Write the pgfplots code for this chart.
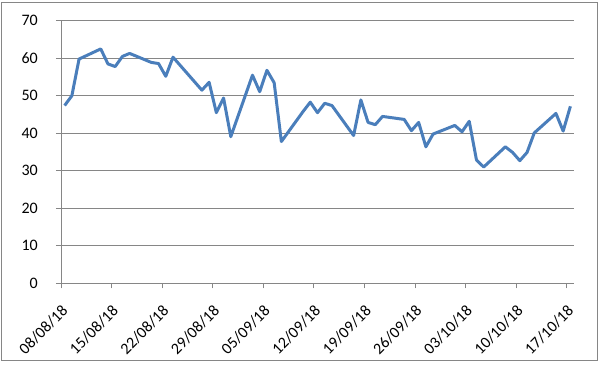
\documentclass[border=0pt]{standalone}
\usepackage{pgfplots}
\pgfplotsset{compat=1.18}
\usepackage{fontspec}
\setmainfont{Carlito}
\definecolor{excelblue}{HTML}{4A7EBB}
\definecolor{gridgrey}{HTML}{868686}
\begin{document}
\begin{tikzpicture}
\useasboundingbox (-61pt,-80.7pt) rectangle (543pt,283.3pt);
\draw[gridgrey, line width=0.9pt] (-59.3pt,-77.4pt) rectangle (536.7pt,281.3pt);
\begin{axis}[
  at={(0pt,0pt)}, anchor=south west,
  scale only axis, width=513pt, height=262.5pt,
  xmin=0, xmax=71, ymin=0, ymax=70,
  ytick={0,10,...,70},
  xtick={0,7,...,70},
  xticklabels={08/08/18,15/08/18,22/08/18,29/08/18,05/09/18,12/09/18,19/09/18,26/09/18,03/10/18,10/10/18,17/10/18},
  axis x line*=bottom, axis y line*=left,
  axis line style={gridgrey, line width=0.9pt, -},
  ymajorgrids, grid style={gridgrey, line width=0.9pt},
  tick align=outside, major tick length=5pt,
  tick style={gridgrey, line width=0.9pt},
  /pgf/number format/assume math mode=true,
  xticklabel style={xshift=4pt, yshift=-20pt, rotate=45, anchor=east, inner sep=0pt, font=\fontsize{16}{19}\selectfont},
  yticklabel style={anchor=east, inner sep=0pt, font=\fontsize{16}{19}\selectfont, xshift=-18pt},
  clip=false,
]
\addplot[excelblue, line width=3pt, mark=none, line join=round] table {
x y
0.5 47.4
1.5 50.0
2.5 59.8
5.5 62.5
6.5 58.5
7.5 57.8
8.5 60.5
9.5 61.3
12.5 58.9
13.5 58.6
14.5 55.2
15.5 60.3
16.5 58.1
19.5 51.5
20.5 53.6
21.5 45.5
22.5 49.4
23.5 39.1
26.5 55.5
27.5 51.1
28.5 56.8
29.5 53.5
30.5 37.8
33.5 45.8
34.5 48.3
35.5 45.5
36.5 48.0
37.5 47.4
40.5 39.4
41.5 48.9
42.5 42.9
43.5 42.3
44.5 44.5
47.5 43.7
48.5 40.7
49.5 42.9
50.5 36.4
51.5 39.8
54.5 42.1
55.5 40.4
56.5 43.2
57.5 32.9
58.5 31.0
61.5 36.4
62.5 34.9
63.5 32.7
64.5 34.9
65.5 40.1
68.5 45.3
69.5 40.6
70.5 47.2
};
\end{axis}
\end{tikzpicture}
\end{document}
